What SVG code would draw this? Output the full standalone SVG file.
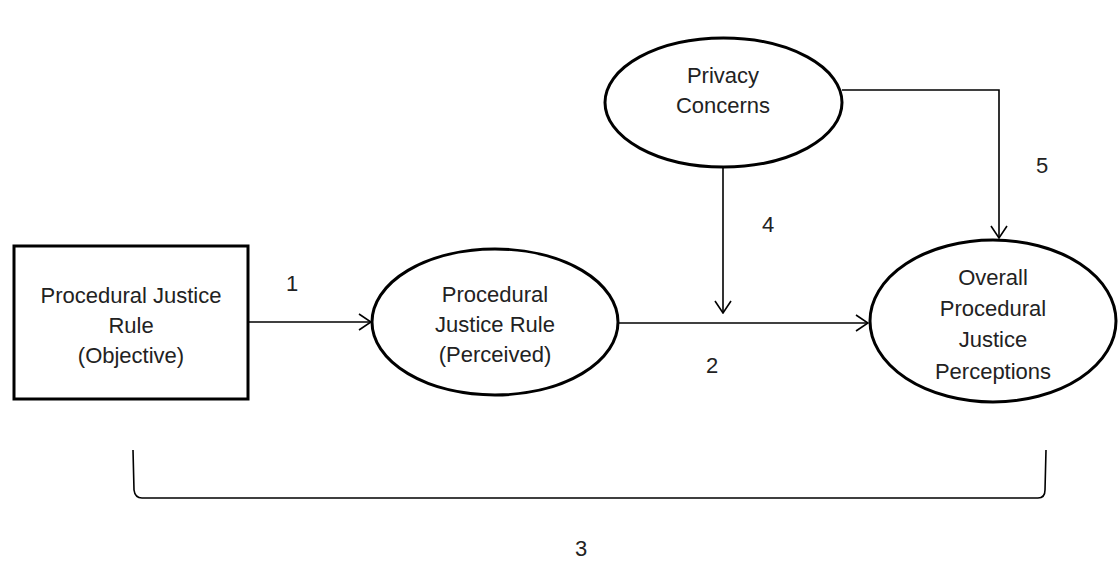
<svg xmlns="http://www.w3.org/2000/svg" width="1118" height="582" viewBox="0 0 1118 582">
<style>
.node{fill:#fff;stroke:#000;stroke-width:3}
.t{font-family:"Liberation Sans",Arial,sans-serif;font-size:22px;fill:#222;text-anchor:middle;dominant-baseline:central}
.c{fill:none;stroke:#000;stroke-width:1.6}
</style>
<defs>
<marker id="arr" viewBox="0 0 14 18" refX="13" refY="9" markerWidth="14" markerHeight="18" markerUnits="userSpaceOnUse" orient="auto">
<path d="M1,1 L13,9 L1,17" fill="none" stroke="#000" stroke-width="1.6"/>
</marker>
</defs>
<rect width="1118" height="582" fill="#fff"/>
<g id="connectors">
<line class="c" x1="248" y1="322" x2="371" y2="322" marker-end="url(#arr)"/>
<line class="c" x1="618" y1="323" x2="868" y2="323" marker-end="url(#arr)"/>
<line class="c" x1="723" y1="167" x2="723" y2="313" marker-end="url(#arr)"/>
<polyline class="c" points="842,90 999,90 999,238" marker-end="url(#arr)"/>
<path class="c" d="M133,450 L134,490 Q135,498 142,498 L1038,498 Q1045,498 1045,490 L1046,450"/>
<text class="t" x="292" y="283">1</text>
<text class="t" x="712" y="365">2</text>
<text class="t" x="581" y="548">3</text>
<text class="t" x="768" y="224">4</text>
<text class="t" x="1042" y="165">5</text>
</g>
<g id="objective">
<rect class="node" x="14" y="246" width="234" height="153"/>
<text class="t" x="131" y="295">Procedural Justice</text>
<text class="t" x="131" y="325">Rule</text>
<text class="t" x="131" y="355">(Objective)</text>
</g>
<g id="perceived">
<ellipse class="node" cx="495" cy="322" rx="123" ry="73"/>
<text class="t" x="495" y="294">Procedural</text>
<text class="t" x="495" y="324">Justice Rule</text>
<text class="t" x="495" y="354">(Perceived)</text>
</g>
<g id="privacy">
<ellipse class="node" cx="723.5" cy="102.5" rx="118.5" ry="64.5"/>
<text class="t" x="723" y="75">Privacy</text>
<text class="t" x="723" y="105">Concerns</text>
</g>
<g id="overall">
<ellipse class="node" cx="993" cy="321" rx="123" ry="81"/>
<text class="t" x="993" y="277">Overall</text>
<text class="t" x="993" y="308">Procedural</text>
<text class="t" x="993" y="339">Justice</text>
<text class="t" x="993" y="371">Perceptions</text>
</g>
</svg>
